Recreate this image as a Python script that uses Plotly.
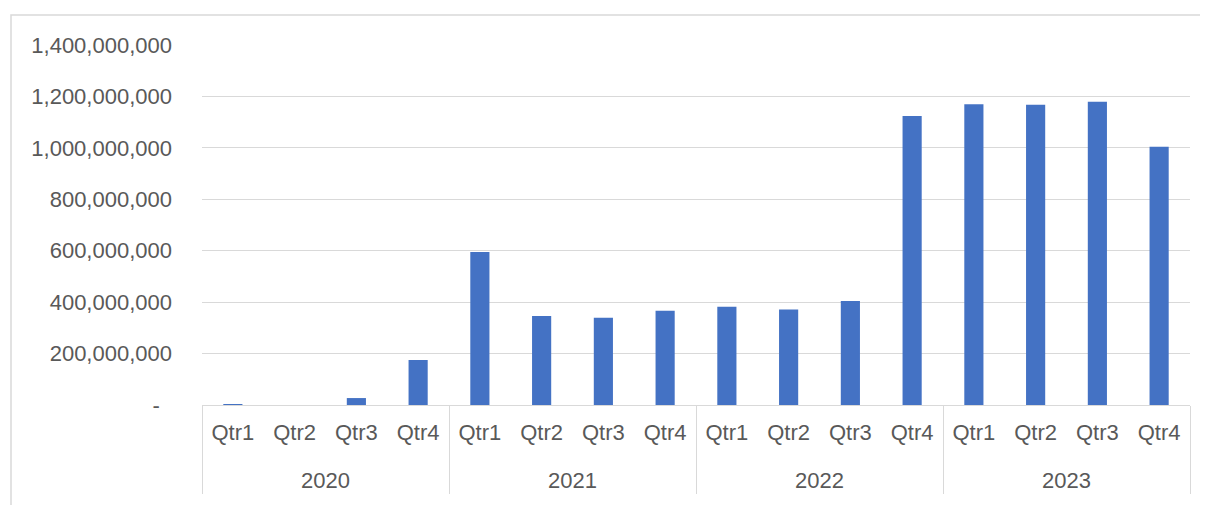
import plotly.graph_objects as go

years = ["2020"] * 4 + ["2021"] * 4 + ["2022"] * 4 + ["2023"] * 4
quarters = ["Qtr1", "Qtr2", "Qtr3", "Qtr4"] * 4
values = [
    3_000_000, 0, 27_000_000, 175_000_000,
    595_000_000, 346_000_000, 339_000_000, 367_000_000,
    382_000_000, 371_000_000, 404_000_000, 1_124_000_000,
    1_170_000_000, 1_168_000_000, 1_179_000_000, 1_004_000_000,
]
y_tickvals = [0, 200_000_000, 400_000_000, 600_000_000, 800_000_000,
              1_000_000_000, 1_200_000_000, 1_400_000_000]
y_ticktext = ["-\u00a0\u00a0", "200,000,000", "400,000,000", "600,000,000",
              "800,000,000", "1,000,000,000", "1,200,000,000", "1,400,000,000"]

# page body has an 8px margin, so the figure is 1200x497 and offset by 8px
OFF = 8
W, H = 1208 - OFF, 505 - OFF
L, R, T, B = 202 - OFF, 18, 45 - OFF, 100
pw, ph = W - L - R, H - T - B

FONT = "Liberation Sans"
FS = 22
GRAY = "#595959"
LINE = "#d9d9d9"

# inner labels get an extra blank line so the year row sits lower (Excel spacing)
quarter_labels = [q + "<br>\u00a0" for q in quarters]

fig = go.Figure(go.Bar(
    x=[years, quarter_labels],
    y=values,
    marker=dict(color="#4472C4", line=dict(width=0)),
))

fig.update_layout(
    width=W, height=H,
    margin=dict(l=L, r=R, t=T, b=B, pad=0),
    paper_bgcolor="white",
    plot_bgcolor="white",
    bargap=0.69,
    showlegend=False,
    font=dict(family=FONT, size=FS, color=GRAY),
)

fig.update_xaxes(
    type="multicategory",
    showline=True, linecolor=LINE, linewidth=1,
    showgrid=False,
    showdividers=True, dividercolor=LINE, dividerwidth=1,
    tickfont=dict(family=FONT, size=FS, color=GRAY),
    ticks="",
    ticklabelstandoff=8,
)

fig.update_yaxes(
    range=[0, 1_400_000_000],
    tickvals=y_tickvals,
    ticktext=y_ticktext,
    showgrid=True, gridcolor=LINE, gridwidth=1,
    zeroline=False,
    showline=False,
    ticks="",
    ticklabelstandoff=29,
    tickfont=dict(family=FONT, size=FS, color=GRAY),
)

def px_x(x):
    return (x - L) / pw

def px_y(y):
    return (H - B - y) / ph

# chart frame (Excel chart-area border)
fig.add_shape(
    type="rect", xref="paper", yref="paper",
    x0=px_x(11 - OFF), x1=px_x(1215), y0=px_y(515), y1=px_y(15 - OFF),
    line=dict(color=LINE, width=1.5), fillcolor="rgba(0,0,0,0)",
    layer="below",
)

fig.write_html("out.html")
